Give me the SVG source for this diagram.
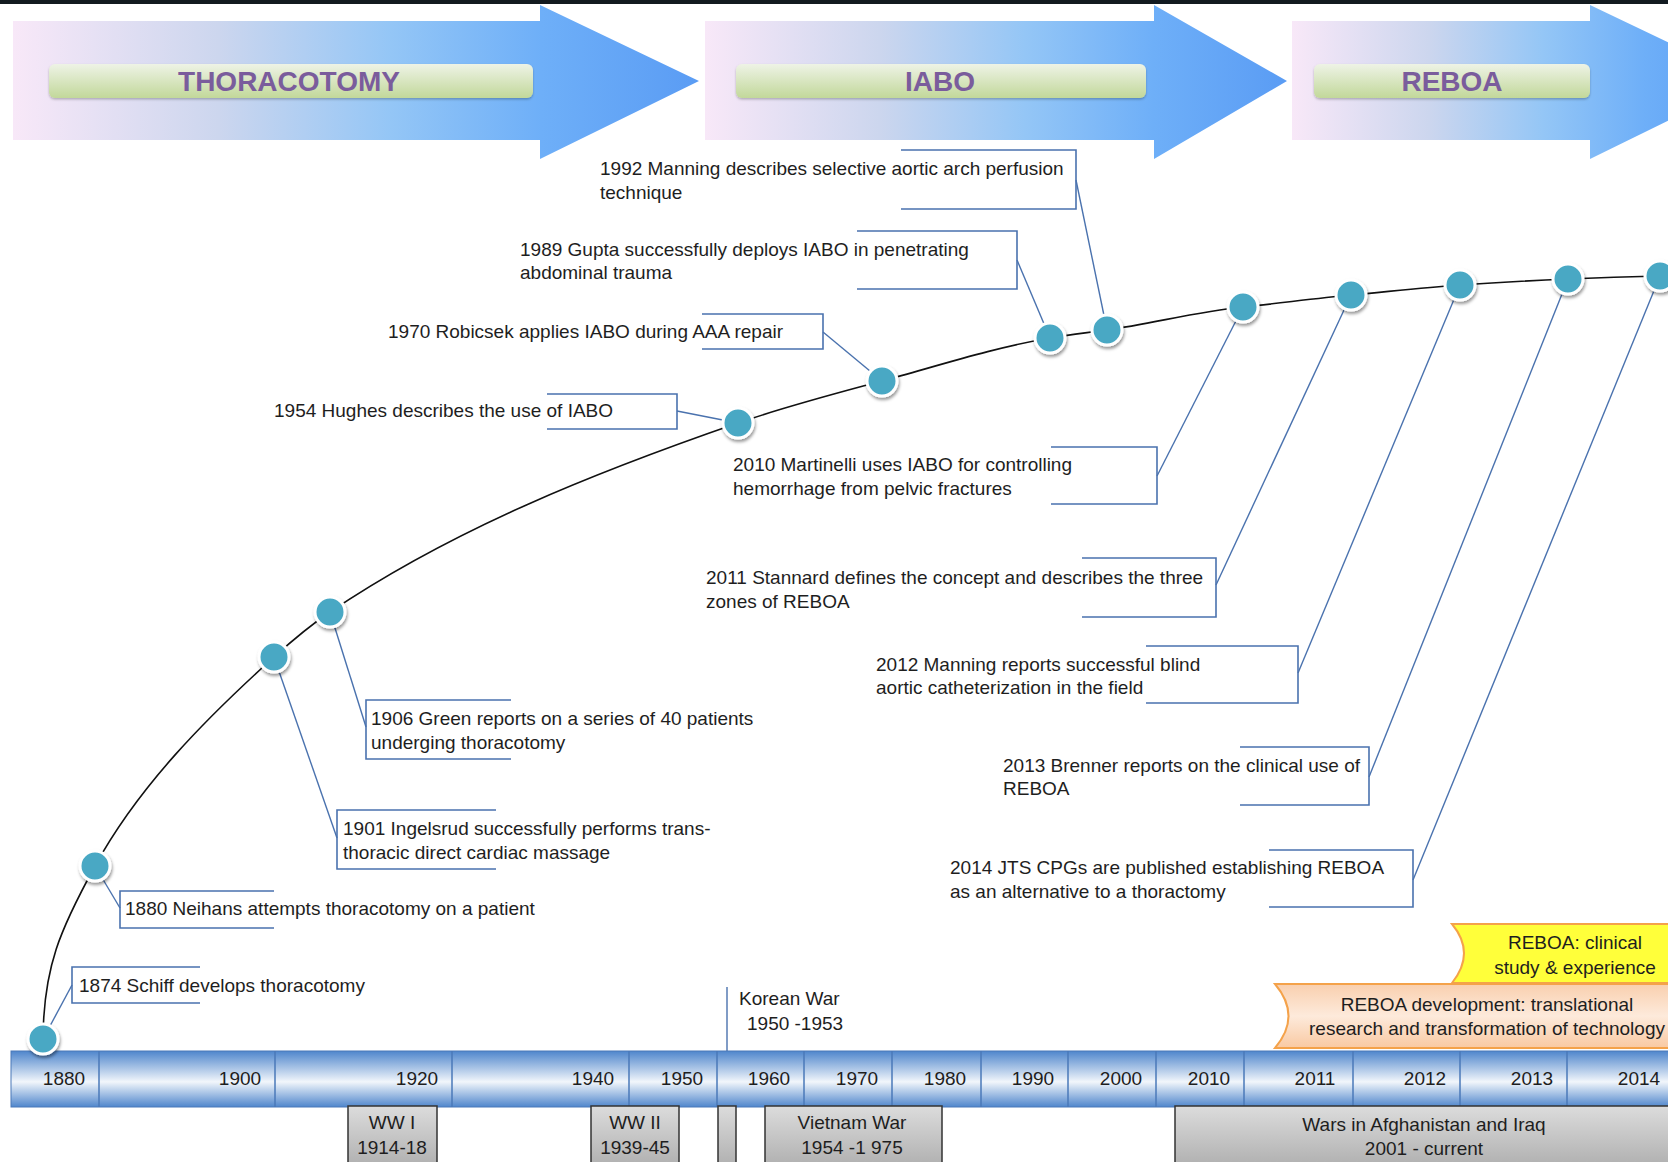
<svg xmlns="http://www.w3.org/2000/svg" width="1668" height="1162" viewBox="0 0 1668 1162">
<style>
.lbl{font-family:"Liberation Sans",Arial,sans-serif;font-size:19px;fill:#1e1e1e}
.yr{font-family:"Liberation Sans",Arial,sans-serif;font-size:19px;fill:#1e1e1e;text-anchor:middle}
.war{font-family:"Liberation Sans",Arial,sans-serif;font-size:19px;fill:#1e1e1e;text-anchor:middle}
.phase{font-family:"Liberation Sans",Arial,sans-serif;font-size:28px;font-weight:bold;fill:#7a5c9c;text-anchor:middle}
.brk{fill:none;stroke:#4a72ae;stroke-width:1.6}
.con{fill:none;stroke:#4a72ae;stroke-width:1.4}
.node{fill:#48a8c4;stroke:#ffffff;stroke-width:3;filter:url(#sh)}
.div{stroke:#4a78b8;stroke-width:1.5}
.gbox{fill:url(#gray);stroke:#333;stroke-width:1.5}
</style>
<defs>
<linearGradient id="arr" x1="0" y1="0" x2="1" y2="0">
<stop offset="0" stop-color="#f8e8f8"/>
<stop offset="0.3" stop-color="#ccd6ee"/>
<stop offset="0.55" stop-color="#94c6f6"/>
<stop offset="0.77" stop-color="#6eaff8"/>
<stop offset="1" stop-color="#5a9cf4"/>
</linearGradient>
<linearGradient id="grn" x1="0" y1="0" x2="0" y2="1">
<stop offset="0" stop-color="#eef3e6"/>
<stop offset="1" stop-color="#c2d89a"/>
</linearGradient>
<linearGradient id="bar" x1="0" y1="0" x2="0" y2="1">
<stop offset="0" stop-color="#4f86cc"/>
<stop offset="0.55" stop-color="#f2f6fb"/>
<stop offset="1" stop-color="#4f86cc"/>
</linearGradient>
<linearGradient id="gray" x1="0" y1="0" x2="0" y2="1">
<stop offset="0" stop-color="#dcdcdc"/>
<stop offset="1" stop-color="#b0b0b0"/>
</linearGradient>
<linearGradient id="org" x1="0" y1="0" x2="0" y2="1">
<stop offset="0" stop-color="#f9cfae"/>
<stop offset="0.5" stop-color="#fdeadb"/>
<stop offset="1" stop-color="#f9c9a2"/>
</linearGradient>
<filter id="sh" x="-50%" y="-50%" width="200%" height="200%">
<feDropShadow dx="1" dy="2.5" stdDeviation="1.5" flood-color="#000" flood-opacity="0.4"/>
</filter>
<filter id="sh2" x="-5%" y="-20%" width="110%" height="150%">
<feDropShadow dx="0" dy="1.5" stdDeviation="1" flood-color="#000" flood-opacity="0.25"/>
</filter>
</defs>
<rect x="0" y="0" width="1668" height="1162" fill="#ffffff"/>
<rect x="0" y="0" width="1668" height="4" fill="#121a20"/>

<g id="phase-thoracotomy">
<path d="M13,21 L540,21 L540,5 L699,81 L540,159 L540,140 L13,140 Z" fill="url(#arr)"/>
<rect x="49" y="64" width="484" height="34" rx="6" fill="url(#grn)" filter="url(#sh2)"/>
<text class="phase" x="289" y="91">THORACOTOMY</text>
</g>
<g id="phase-iabo">
<path d="M705,21 L1154,21 L1154,5 L1287,81 L1154,159 L1154,140 L705,140 Z" fill="url(#arr)"/>
<rect x="736" y="64" width="410" height="34" rx="6" fill="url(#grn)" filter="url(#sh2)"/>
<text class="phase" x="940" y="91">IABO</text>
</g>
<g id="phase-reboa">
<path d="M1292,21 L1590,21 L1590,5 L1749,81 L1590,159 L1590,140 L1292,140 Z" fill="url(#arr)"/>
<rect x="1314" y="64" width="276" height="34" rx="6" fill="url(#grn)" filter="url(#sh2)"/>
<text class="phase" x="1452" y="91">REBOA</text>
</g>

<g id="reboa-bands">
<path d="M1452,924 Q1476,953 1452,983 L1670,983 L1670,924 Z" fill="#ffff3a" stroke="#f4a24a" stroke-width="2"/>
<text class="war" x="1575" y="949">REBOA: clinical</text>
<text class="war" x="1575" y="974">study &amp; experience</text>
<path d="M1275,984 Q1302,1016 1275,1048 L1670,1048 L1670,984 Z" fill="url(#org)" stroke="#f4a24a" stroke-width="2"/>
<text class="war" x="1487" y="1011">REBOA development: translational</text>
<text class="war" x="1487" y="1035">research and transformation of technology</text>
</g>

<g id="timeline-bar">
<rect x="11" y="1051" width="1660" height="56" fill="url(#bar)" stroke="#4a78b8" stroke-width="1"/>
<line class="div" x1="99" y1="1051" x2="99" y2="1107"/>
<line class="div" x1="275" y1="1051" x2="275" y2="1107"/>
<line class="div" x1="452" y1="1051" x2="452" y2="1107"/>
<line class="div" x1="629" y1="1051" x2="629" y2="1107"/>
<line class="div" x1="717" y1="1051" x2="717" y2="1107"/>
<line class="div" x1="804" y1="1051" x2="804" y2="1107"/>
<line class="div" x1="892" y1="1051" x2="892" y2="1107"/>
<line class="div" x1="981" y1="1051" x2="981" y2="1107"/>
<line class="div" x1="1068" y1="1051" x2="1068" y2="1107"/>
<line class="div" x1="1156" y1="1051" x2="1156" y2="1107"/>
<line class="div" x1="1244" y1="1051" x2="1244" y2="1107"/>
<line class="div" x1="1353" y1="1051" x2="1353" y2="1107"/>
<line class="div" x1="1460" y1="1051" x2="1460" y2="1107"/>
<line class="div" x1="1567" y1="1051" x2="1567" y2="1107"/>
<text class="yr" x="64" y="1085">1880</text>
<text class="yr" x="240" y="1085">1900</text>
<text class="yr" x="417" y="1085">1920</text>
<text class="yr" x="593" y="1085">1940</text>
<text class="yr" x="682" y="1085">1950</text>
<text class="yr" x="769" y="1085">1960</text>
<text class="yr" x="857" y="1085">1970</text>
<text class="yr" x="945" y="1085">1980</text>
<text class="yr" x="1033" y="1085">1990</text>
<text class="yr" x="1121" y="1085">2000</text>
<text class="yr" x="1209" y="1085">2010</text>
<text class="yr" x="1315" y="1085">2011</text>
<text class="yr" x="1425" y="1085">2012</text>
<text class="yr" x="1532" y="1085">2013</text>
<text class="yr" x="1639" y="1085">2014</text>
</g>

<g id="wars">
<rect class="gbox" x="348" y="1106" width="89" height="60"/>
<text class="war" x="392" y="1129">WW I</text>
<text class="war" x="392" y="1154">1914-18</text>
<rect class="gbox" x="591" y="1106" width="88" height="60"/>
<text class="war" x="635" y="1129">WW II</text>
<text class="war" x="635" y="1154">1939-45</text>
<rect class="gbox" x="718" y="1106" width="18" height="60"/>
<rect class="gbox" x="765" y="1106" width="177" height="60"/>
<text class="war" x="852" y="1129">Vietnam War</text>
<text class="war" x="852" y="1154">1954 -1 975</text>
<rect class="gbox" x="1175" y="1106" width="500" height="60"/>
<text class="war" x="1424" y="1131">Wars in Afghanistan and Iraq</text>
<text class="war" x="1424" y="1155">2001 - current</text>
<line class="con" x1="727" y1="987" x2="727" y2="1051"/>
<text class="lbl" x="739" y="1005">Korean War</text>
<text class="lbl" x="747" y="1030">1950 -1953</text>
</g>

<g id="connectors">
<path d="M43,1039 C43.5,967 60.3,929.3 95,866 C139,785.6 206.1,718.4 274,657 C291.7,641 310.2,625.4 330,612 C454.4,528.1 596.3,472 738,423 C785.3,406.6 833.7,394.1 882,381 C937.8,365.9 993.1,347.8 1050,338 C1068.9,334.7 1088,332.7 1107,330 C1152.5,323.6 1197.2,311.6 1243,307 C1279,303.4 1314.9,298.3 1351,295 C1387.3,291.7 1423.7,287.5 1460,285 C1496,282.5 1532,280.6 1568,279 C1598.7,277.6 1629.3,276.6 1660,276 L1670,276" fill="none" stroke="#111" stroke-width="1.6"/>
<line class="con" x1="72" y1="985" x2="43" y2="1039"/>
<line class="con" x1="120" y1="908" x2="95" y2="866"/>
<line class="con" x1="337" y1="838" x2="274" y2="657"/>
<line class="con" x1="366" y1="727" x2="330" y2="612"/>
<line class="con" x1="677" y1="411" x2="738" y2="423"/>
<line class="con" x1="823" y1="332" x2="882" y2="381"/>
<line class="con" x1="1017" y1="260" x2="1050" y2="338"/>
<line class="con" x1="1076" y1="180" x2="1107" y2="330"/>
<line class="con" x1="1157" y1="476" x2="1243" y2="307"/>
<line class="con" x1="1216" y1="585" x2="1351" y2="295"/>
<line class="con" x1="1298" y1="673" x2="1460" y2="285"/>
<line class="con" x1="1369" y1="777" x2="1568" y2="279"/>
<line class="con" x1="1413" y1="880" x2="1660" y2="276"/>
</g>

<g id="e1874"><path class="brk" d="M200,967 H72 V1003 H200"/><text class="lbl" x="79" y="992">1874 Schiff develops thoracotomy</text><circle class="node" cx="43" cy="1039" r="15"/></g>
<g id="e1880"><path class="brk" d="M274,891 H120 V928 H274"/><text class="lbl" x="125" y="915">1880 Neihans attempts thoracotomy on a patient</text><circle class="node" cx="95" cy="866" r="15"/></g>
<g id="e1901"><path class="brk" d="M496,810 H337 V869 H496"/><text class="lbl" x="343" y="835">1901 Ingelsrud successfully performs trans-</text><text class="lbl" x="343" y="859">thoracic direct cardiac massage</text><circle class="node" cx="274" cy="657" r="15"/></g>
<g id="e1906"><path class="brk" d="M511,700 H366 V759 H511"/><text class="lbl" x="371" y="725">1906 Green reports on a series of 40 patients</text><text class="lbl" x="371" y="749">underging thoracotomy</text><circle class="node" cx="330" cy="612" r="15"/></g>
<g id="e1954"><path class="brk" d="M547,394 H677 V429 H547"/><text class="lbl" x="274" y="417">1954 Hughes describes the use of IABO</text><circle class="node" cx="738" cy="423" r="15"/></g>
<g id="e1970"><path class="brk" d="M702,314 H823 V349 H702"/><text class="lbl" x="388" y="338">1970 Robicsek applies IABO during AAA repair</text><circle class="node" cx="882" cy="381" r="15"/></g>
<g id="e1989"><path class="brk" d="M857,231 H1017 V289 H857"/><text class="lbl" x="520" y="256">1989 Gupta successfully deploys IABO in penetrating</text><text class="lbl" x="520" y="279">abdominal trauma</text><circle class="node" cx="1050" cy="338" r="15"/></g>
<g id="e1992"><path class="brk" d="M901,150 H1076 V209 H901"/><text class="lbl" x="600" y="175">1992 Manning describes selective aortic arch perfusion</text><text class="lbl" x="600" y="199">technique</text><circle class="node" cx="1107" cy="330" r="15"/></g>
<g id="e2010"><path class="brk" d="M1051,447 H1157 V504 H1051"/><text class="lbl" x="733" y="471">2010 Martinelli uses IABO for controlling</text><text class="lbl" x="733" y="495">hemorrhage from pelvic fractures</text><circle class="node" cx="1243" cy="307" r="15"/></g>
<g id="e2011"><path class="brk" d="M1082,558 H1216 V617 H1082"/><text class="lbl" x="706" y="584">2011 Stannard defines the concept and describes the three</text><text class="lbl" x="706" y="608">zones of REBOA</text><circle class="node" cx="1351" cy="295" r="15"/></g>
<g id="e2012"><path class="brk" d="M1146,646 H1298 V703 H1146"/><text class="lbl" x="876" y="671">2012 Manning reports successful blind</text><text class="lbl" x="876" y="694">aortic catheterization in the field</text><circle class="node" cx="1460" cy="285" r="15"/></g>
<g id="e2013"><path class="brk" d="M1240,747 H1369 V805 H1240"/><text class="lbl" x="1003" y="772">2013 Brenner reports on the clinical use of</text><text class="lbl" x="1003" y="795">REBOA</text><circle class="node" cx="1568" cy="279" r="15"/></g>
<g id="e2014"><path class="brk" d="M1269,850 H1413 V907 H1269"/><text class="lbl" x="950" y="874">2014 JTS CPGs are published establishing REBOA</text><text class="lbl" x="950" y="898">as an alternative to a thoractomy</text><circle class="node" cx="1660" cy="276" r="15"/></g>
</svg>
